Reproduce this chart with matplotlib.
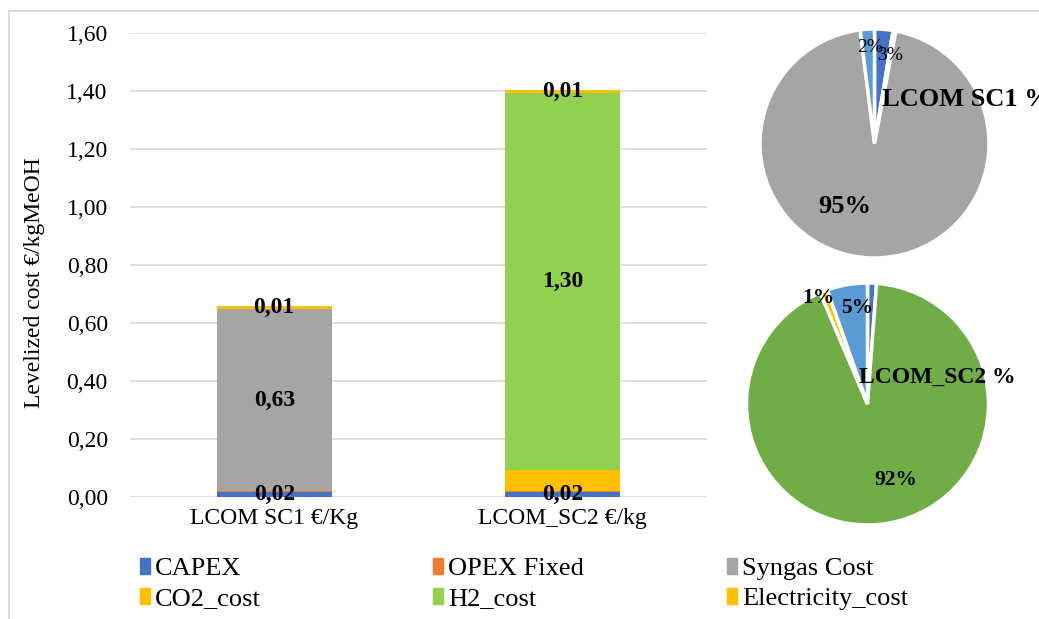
import numpy as np
import matplotlib.pyplot as plt
from matplotlib.lines import Line2D
from matplotlib.patches import Patch
from matplotlib.ticker import FuncFormatter

plt.rcParams['font.family'] = ['Liberation Serif', 'DejaVu Serif']

# Levelized cost of methanol, stacked per scenario (€/kg MeOH)
scenarios = ['LCOM SC1 €/Kg', 'LCOM_SC2 €/kg']
components = ['CAPEX', 'OPEX Fixed', 'Syngas Cost', 'CO2_cost', 'H2_cost', 'Electricity_cost']
capex = [0.016, 0.016]
opex_fixed = [0.003, 0.003]
syngas_cost = [0.63, 0.0]
co2_cost = [0.0, 0.075]
h2_cost = [0.0, 1.30]
electricity_cost = [0.01, 0.01]
bar_colors = ['#4472C4', '#ED7D31', '#A5A5A5', '#FFC000', '#92D050', '#FFC000']
labelled = ['CAPEX', 'Syngas Cost', 'H2_cost', 'Electricity_cost']

# Cost shares (%) for the two pies
sc1_share = [2.6, 0.4, 95.0, 2.0]
sc1_colors = ['#4472C4', '#ED7D31', '#A5A5A5', '#5B9BD5']
sc2_share = [1.2, 92.4, 1.0, 5.4]
sc2_colors = ['#4472C4', '#70AD47', '#FFC000', '#5B9BD5']

W, H = 1039, 619
fig = plt.figure(figsize=(W / 100, H / 100), dpi=100)

# light frame on top and left
grey = '#D9D9D9'
fig.add_artist(Line2D([9 / W, 1], [1 - 11 / H, 1 - 11 / H], transform=fig.transFigure, color=grey, lw=1.3))
fig.add_artist(Line2D([9 / W, 9 / W], [0, 1 - 11 / H], transform=fig.transFigure, color=grey, lw=1.3))

# ---- stacked bars ----
ax = fig.add_axes([130 / W, 1 - 497 / H, 577 / W, 464 / H])
series = [capex, opex_fixed, syngas_cost, co2_cost, h2_cost, electricity_cost]
x = np.arange(len(scenarios))
bottom = np.zeros(len(scenarios))
for name, vals, col in zip(components, series, bar_colors):
    vals = np.array(vals)
    ax.bar(x, vals, 0.4, bottom=bottom, color=col, label=name, zorder=2)
    if name in labelled:
        for xi, v, b in zip(x, vals, bottom):
            if v > 0:
                ax.text(xi, b + v / 2, f'{v:.2f}'.replace('.', ','), ha='center', va='center',
                        fontsize=17, fontweight='bold', zorder=3)
    bottom += vals

ax.set_xlim(-0.5, 1.5)
ax.set_ylim(0, 1.6)
ax.set_yticks(np.arange(0, 1.61, 0.2))
ax.yaxis.set_major_formatter(FuncFormatter(lambda v, p: f'{v:.2f}'.replace('.', ',')))
ax.set_xticks(x)
ax.set_xticklabels(scenarios)
ax.tick_params(axis='both', length=0, labelsize=17)
ax.tick_params(axis='y', pad=16)
ax.tick_params(axis='x', pad=8)
ax.yaxis.grid(True, color=grey, lw=1.2, zorder=0)
for s in ax.spines.values():
    s.set_visible(False)
ax.set_ylabel('Levelized cost €/kgMeOH', fontsize=17, va='center')
ax.yaxis.set_label_coords(-0.165, 0.461)

# legend in three columns
handles = [Patch(color=c) for c in bar_colors]
for col, xpix in enumerate([140, 433, 727]):
    idx = [col, col + 3]
    fig.legend([handles[i] for i in idx], [components[i] for i in idx], loc='center left',
               bbox_to_anchor=(xpix / W, 1 - 584 / H), frameon=False, fontsize=19,
               borderpad=0, borderaxespad=0, handlelength=0.38, handleheight=0.55,
               handletextpad=0.2, labelspacing=0.3)


# ---- pies ----
def pie_axes(cx, cy, r):
    half = r * 1.03
    a = fig.add_axes([(cx - half) / W, 1 - (cy + half) / H, 2 * half / W, 2 * half / H])
    return a


wedge_style = dict(edgecolor='white', linewidth=2.5)

pa = pie_axes(874.5, 143.5, 114.5)
pa.pie(sc1_share, colors=sc1_colors, startangle=90, counterclock=False, wedgeprops=wedge_style)
pa.set_xlim(-1.03, 1.03)
pa.set_ylim(-1.03, 1.03)
sc1_text = [(0.135, 0.77, 14, 'normal'), None, (-0.26, -0.55, 19, 'bold'), (-0.04, 0.84, 14, 'normal')]
for v, t in zip(sc1_share, sc1_text):
    if t:
        pa.text(t[0], t[1], f'{v:.0f}%', ha='center', va='center', fontsize=t[2], fontweight=t[3])
pa.text(0.066, 0.38, 'LCOM SC1 %', ha='left', va='center', fontsize=19, fontweight='bold')

pb = pie_axes(867.5, 404, 121)
pb.pie(sc2_share, colors=sc2_colors, startangle=90, counterclock=False, wedgeprops=wedge_style)
pb.set_xlim(-1.03, 1.03)
pb.set_ylim(-1.03, 1.03)
sc2_text = [None, (0.235, -0.63, 15.5, 'bold'), (-0.41, 0.88, 15.5, 'bold'), (-0.087, 0.79, 15.5, 'bold')]
for v, t in zip(sc2_share, sc2_text):
    if t:
        pb.text(t[0], t[1], f'{v:.0f}%', ha='center', va='center', fontsize=t[2], fontweight=t[3])
pb.text(0.58, 0.22, 'LCOM_SC2 %', ha='center', va='center', fontsize=17, fontweight='bold')

fig.savefig('out.png', dpi=100)
